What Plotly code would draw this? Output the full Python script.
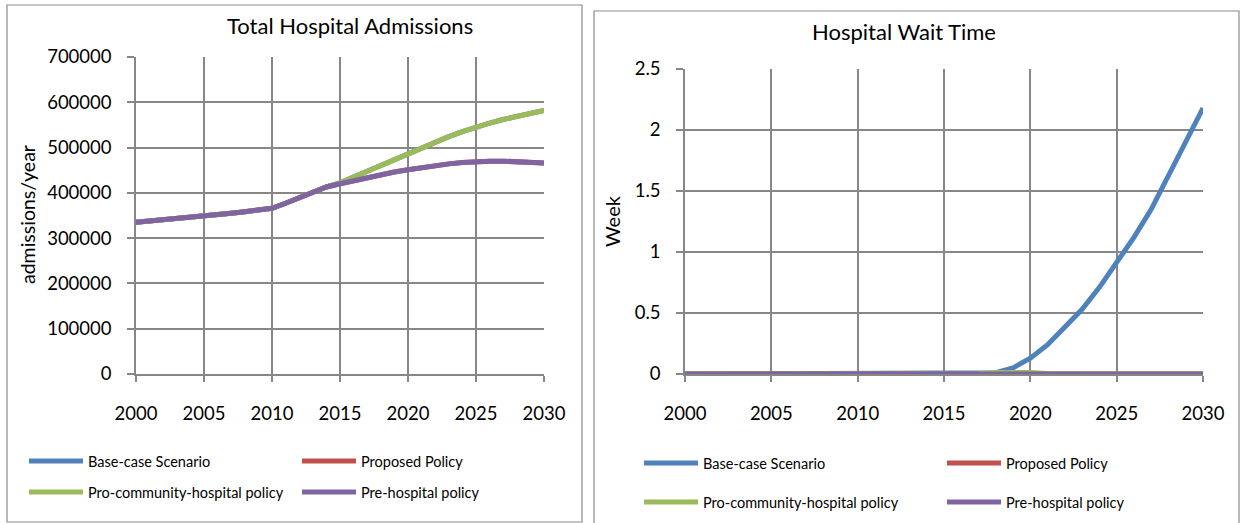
import plotly.graph_objects as go

W, H = 1241, 523

years = [2000, 2001, 2002, 2003, 2004, 2005, 2006, 2007, 2008, 2009, 2010,
         2011, 2012, 2013, 2014, 2015, 2016, 2017, 2018, 2019, 2020,
         2021, 2022, 2023, 2024, 2025, 2026, 2027, 2028, 2029, 2030]

series_names = ["Base-case Scenario", "Proposed Policy",
                "Pro-community-hospital policy", "Pre-hospital policy"]
series_colors = ["#4F81BD", "#C0504D", "#9BBB59", "#8064A2"]

# Total Hospital Admissions (admissions/year)
adm_base = [335000, 337500, 340000, 343000, 345500, 348000, 351500, 355000, 358500, 362000, 366000,
            377000, 389000, 401000, 413000, 422000, 435000, 448000, 461000, 474000, 487000,
            500000, 512000, 524000, 535000, 545000, 554000, 562000, 569000, 576000, 582000]
adm_proposed = [335000, 337500, 340000, 343000, 345500, 348000, 351500, 355000, 358500, 362000, 366000,
                377000, 389000, 401000, 413000, 420000, 427000, 433000, 440000, 446000, 451000,
                456000, 460000, 464000, 467000, 469000, 470000, 470000, 469000, 468000, 466000]
adm_procomm = [335000, 337500, 340000, 343000, 345500, 348000, 351500, 355000, 358500, 362000, 366000,
               377000, 389000, 401000, 413000, 422000, 435000, 448000, 461000, 474000, 487000,
               500000, 512000, 524000, 535000, 545000, 554000, 562000, 569000, 576000, 582000]
adm_prehosp = [335000, 337500, 340000, 343000, 345500, 348000, 351500, 355000, 358500, 362000, 366000,
               377000, 389000, 401000, 413000, 420000, 427000, 433000, 440000, 446000, 451000,
               456000, 460000, 464000, 467000, 469000, 470000, 470000, 469000, 468000, 466000]

# Hospital Wait Time (Week)
wait_base = [0, 0, 0, 0, 0, 0, 0, 0, 0, 0, 0,
             0, 0, 0, 0, 0, 0, 0.0, 0.01, 0.05, 0.13,
             0.24, 0.38, 0.53, 0.71, 0.91, 1.12, 1.35, 1.63, 1.91, 2.18]
wait_proposed = [0, 0, 0, 0, 0, 0, 0, 0, 0, 0, 0,
                 0, 0, 0, 0, 0, 0, 0, 0, 0, 0,
                 0, 0, 0, 0, 0, 0, 0, 0, 0, 0]
wait_procomm = [0, 0, 0, 0, 0, 0, 0, 0, 0, 0, 0,
                0, 0, 0, 0, 0, 0, 0.003, 0.012, 0.016, 0.012,
                0.004, 0, 0, 0, 0, 0, 0, 0, 0, 0]
wait_prehosp = [0, 0, 0, 0, 0, 0, 0, 0, 0, 0, 0,
                0, 0, 0, 0, 0, 0, 0, 0, 0, 0,
                0, 0, 0, 0, 0, 0, 0, 0, 0, 0]

adm_ticks = [0, 100000, 200000, 300000, 400000, 500000, 600000, 700000]
wait_ticks = [0, 0.5, 1, 1.5, 2, 2.5]
year_ticks = [2000, 2005, 2010, 2015, 2020, 2025, 2030]


def fx(px):
    return px / W


def fy(py):
    return 1 - py / H


FONT = "Lato"
GRID = "#878787"

fig = go.Figure()

left_sets = [adm_base, adm_proposed, adm_procomm, adm_prehosp]
right_sets = [wait_base, wait_proposed, wait_procomm, wait_prehosp]
left_legends = ["legend", "legend", "legend2", "legend2"]
right_legends = ["legend3", "legend3", "legend4", "legend4"]

for i in range(4):
    fig.add_trace(go.Scatter(x=years, y=left_sets[i], mode="lines", name=series_names[i],
                             line=dict(color=series_colors[i], width=5),
                             xaxis="x", yaxis="y", legend=left_legends[i]))
for i in range(4):
    fig.add_trace(go.Scatter(x=years, y=right_sets[i], mode="lines", name=series_names[i],
                             line=dict(color=series_colors[i], width=5),
                             xaxis="x2", yaxis="y2", legend=right_legends[i]))

xcommon = dict(range=[2000, 2030], tickvals=year_ticks, showgrid=True, gridcolor=GRID,
               gridwidth=1.5, showline=True, linecolor=GRID, linewidth=1.5, ticks="outside",
               ticklen=6, tickcolor=GRID, tickwidth=1.5, zeroline=False, automargin=False,
               tickfont=dict(family=FONT, size=18.5, color="black"), ticklabelstandoff=16,
               fixedrange=True)
ycommon = dict(showgrid=True, gridcolor=GRID, gridwidth=1.5, showline=True, linecolor=GRID,
               linewidth=1.5, ticks="outside", ticklen=7, tickcolor=GRID, tickwidth=1.5,
               zeroline=False, automargin=False, tickfont=dict(family=FONT, size=18.5, color="black"),
               ticklabelstandoff=12, fixedrange=True)

fig.update_layout(
    width=W, height=H,
    margin=dict(l=0, r=0, t=0, b=0, autoexpand=False),
    paper_bgcolor="white", plot_bgcolor="white",
    showlegend=True,
    xaxis=dict(domain=[fx(136), fx(544)], anchor="y", **xcommon),
    yaxis=dict(domain=[fy(374), fy(57)], anchor="x", range=[0, 700000], tickvals=adm_ticks,
               tickformat="d", **ycommon),
    xaxis2=dict(domain=[fx(685), fx(1203)], anchor="y2", **xcommon),
    yaxis2=dict(domain=[fy(374), fy(69)], anchor="x2", range=[0, 2.5], tickvals=wait_ticks,
                **ycommon),
)

leg_common = dict(orientation="h", xanchor="left", yanchor="middle", itemwidth=54,
                  font=dict(family=FONT, size=14.5, color="black"), bgcolor="rgba(0,0,0,0)",
                  itemclick=False, itemdoubleclick=False, tracegroupgap=0)
fig.update_layout(
    legend=dict(x=fx(24), y=fy(461), entrywidth=204, **leg_common),
    legend2=dict(x=fx(24), y=fy(492), entrywidth=204, **leg_common),
    legend3=dict(x=fx(639), y=fy(463), entrywidth=234, **leg_common),
    legend4=dict(x=fx(639), y=fy(502), entrywidth=234, **leg_common),
)

# chart borders
fig.add_shape(type="rect", xref="paper", yref="paper", x0=fx(7), x1=fx(582), y0=fy(522), y1=fy(5),
              line=dict(color="#8c8c8c", width=1.2), fillcolor="rgba(0,0,0,0)", layer="below")
fig.add_shape(type="rect", xref="paper", yref="paper", x0=fx(594), x1=fx(1239), y0=fy(530), y1=fy(11),
              line=dict(color="#8c8c8c", width=1.2), fillcolor="rgba(0,0,0,0)", layer="below")

# titles
fig.add_annotation(text="Total Hospital Admissions", xref="paper", yref="paper", x=fx(350), y=fy(25),
                   showarrow=False, xanchor="center", yanchor="middle",
                   font=dict(family=FONT, size=22, color="black"))
fig.add_annotation(text="Hospital Wait Time", xref="paper", yref="paper", x=fx(904), y=fy(31),
                   showarrow=False, xanchor="center", yanchor="middle",
                   font=dict(family=FONT, size=22, color="black"))
# axis titles
fig.add_annotation(text="admissions/year", xref="paper", yref="paper", x=fx(27), y=fy(215),
                   showarrow=False, xanchor="center", yanchor="middle", textangle=-90,
                   font=dict(family=FONT, size=19.5, color="black"))
fig.add_annotation(text="Week", xref="paper", yref="paper", x=fx(612), y=fy(221),
                   showarrow=False, xanchor="center", yanchor="middle", textangle=-90,
                   font=dict(family=FONT, size=20, color="black"))

fig.write_html("out.html")
